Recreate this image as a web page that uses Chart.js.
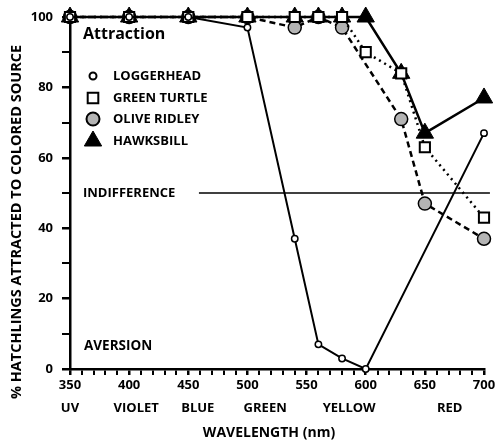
<!DOCTYPE html>
<html>
<head>
<meta charset="utf-8">
<script src="https://cdn.jsdelivr.net/npm/chart.js@4"></script>
<style>
  html, body { margin: 0; padding: 0; background: #fff; }
</style>
</head>
<body>
<canvas id="myChart" width="495" height="441"></canvas>
<script>
// wavelength (nm) and % of hatchlings attracted, per species
const loggerheadNm  = [350, 400, 450, 500, 540, 560, 580, 600, 700];
const loggerheadPct = [100, 100, 100, 97, 37, 7, 3, 0, 67];

const greenNm  = [350, 400, 450, 500, 540, 560, 580, 600, 630, 650, 700];
const greenPct = [100, 100, 100, 100, 100, 100, 100, 90, 84, 63, 43];

const oliveNm  = [350, 400, 450, 500, 540, 560, 580, 630, 650, 700];
const olivePct = [100, 100, 100, 100, 97, 100, 97, 71, 47, 37];

const hawkNm  = [350, 400, 450, 500, 540, 560, 580, 600, 630, 650, 700];
const hawkPct = [100, 100, 100, 100, 100, 100, 100, 100, 84, 67, 77];

const indifferenceNm  = [459, 705];
const indifferencePct = [50, 50];

const colorNames   = ['UV', 'VIOLET', 'BLUE', 'GREEN', 'YELLOW', 'RED'];
const colorCentres = [350, 406, 458, 515, 586, 671];

const FONT = '"Open Sans", "DejaVu Sans", sans-serif';

const pts = (xs, ys) => xs.map((v, i) => ({ x: v, y: ys[i] }));

const legendItems = [
  { label: 'LOGGERHEAD',   style: 'circle',   radius: 3.5, fill: '#fff', bw: 2 },
  { label: 'GREEN TURTLE', style: 'rect',     radius: 7.5, fill: '#fff', bw: 2 },
  { label: 'OLIVE RIDLEY', style: 'circle',   radius: 6.5, fill: '#b4b4b4', bw: 2 },
  { label: 'HAWKSBILL',    style: 'triangle', radius: 10,  fill: '#000', bw: 1 }
];

// text, legend and the second row of x labels
const annotations = {
  id: 'annotations',
  afterDraw(chart) {
    const { ctx, scales: { x } } = chart;
    ctx.save();
    ctx.fillStyle = '#000';
    ctx.strokeStyle = '#000';
    ctx.textBaseline = 'middle';
    ctx.textAlign = 'left';

    ctx.font = 'bold 16px ' + FONT;
    ctx.fillText('Attraction', 83, 34);

    ctx.font = 'bold 13px ' + FONT;
    ctx.fillText('INDIFFERENCE', 83, 193);
    ctx.font = 'bold 13.5px ' + FONT;
    ctx.fillText('AVERSION', 84, 346);

    legendItems.forEach((item, i) => {
      const cy = [76, 98, 119, 141][i];
      ctx.fillStyle = item.fill;
      ctx.lineWidth = item.bw;
      Chart.helpers.drawPoint(ctx, { pointStyle: item.style, radius: item.radius, rotation: 0, borderWidth: item.bw }, 93, cy);
      ctx.fillStyle = '#000';
      ctx.font = 'bold 13px ' + FONT;
      ctx.fillText(item.label, 113, cy);
    });

    ctx.textAlign = 'center';
    ctx.font = 'bold 13px ' + FONT;
    colorNames.forEach((name, i) => {
      ctx.fillText(name, x.getPixelForValue(colorCentres[i]), 408);
    });
    ctx.font = 'bold 14px ' + FONT;
    ctx.fillText('WAVELENGTH (nm)', 269, 433);

    ctx.translate(17, 222);
    ctx.rotate(-Math.PI / 2);
    ctx.font = 'bold 14.5px ' + FONT;
    ctx.fillText('% HATCHLINGS ATTRACTED TO COLORED SOURCE', 0, 0);
    ctx.restore();
  }
};

const ctx = document.getElementById('myChart').getContext('2d');
const chart = new Chart(ctx, {
  type: 'line',
  data: {
    datasets: [
      {
        label: 'LOGGERHEAD',
        data: pts(loggerheadNm, loggerheadPct),
        borderColor: '#000', borderWidth: 2,
        pointStyle: 'circle', pointRadius: 3.2,
        pointBackgroundColor: '#fff', pointBorderColor: '#000', pointBorderWidth: 1.5,
        clip: false
      },
      {
        label: 'GREEN TURTLE',
        data: pts(greenNm, greenPct),
        borderColor: '#000', borderWidth: 2.5, borderDash: [2, 4],
        pointStyle: 'rect', pointRadius: 7.2,
        pointBackgroundColor: '#fff', pointBorderColor: '#000', pointBorderWidth: 2,
        clip: false
      },
      {
        label: 'HAWKSBILL',
        data: pts(hawkNm, hawkPct),
        borderColor: '#000', borderWidth: 2.5,
        pointStyle: 'triangle', pointRadius: 10,
        pointBackgroundColor: '#000', pointBorderColor: '#000', pointBorderWidth: 1,
        clip: false
      },
      {
        label: 'OLIVE RIDLEY',
        data: pts(oliveNm, olivePct),
        borderColor: '#000', borderWidth: 2.5, borderDash: [6, 4],
        pointStyle: 'circle', pointRadius: 6.5,
        pointBackgroundColor: '#b4b4b4', pointBorderColor: '#000', pointBorderWidth: 1.5,
        clip: false
      },
      {
        label: 'INDIFFERENCE',
        data: pts(indifferenceNm, indifferencePct),
        borderColor: '#000', borderWidth: 1.5,
        pointRadius: 0,
        clip: false
      }
    ]
  },
  options: {
    responsive: false,
    animation: false,
    layout: { padding: { top: 17, right: 8, left: 0, bottom: 0 } },
    plugins: { legend: { display: false }, tooltip: { enabled: false } },
    elements: { line: { tension: 0 } },
    scales: {
      x: {
        type: 'linear', min: 350, max: 700,
        border: { display: true, color: '#000', width: 2.5 },
        grid: {
          drawOnChartArea: false, drawTicks: true, tickLength: 6,
          color: '#000',
          lineWidth: c => (c.tick && c.tick.value % 50 === 0 ? 2.5 : 2)
        },
        ticks: {
          stepSize: 10, autoSkip: false, maxRotation: 0,
          padding: 2, color: '#000',
          font: { family: FONT, size: 13, weight: 'bold' },
          callback: v => (v % 50 === 0 ? String(v) : '')
        },
        afterFit(scale) {
          scale.height = 72;
          scale.paddingLeft = 0;
          scale.paddingRight = 0;
        }
      },
      y: {
        min: 0, max: 100,
        border: { display: true, color: '#000', width: 2.5 },
        grid: {
          drawOnChartArea: false, drawTicks: true, tickLength: 8,
          color: '#000',
          lineWidth: c => (c.tick && c.tick.value % 20 === 0 ? 2.5 : 2)
        },
        ticks: {
          stepSize: 10, autoSkip: false,
          padding: 9, color: '#000',
          font: { family: FONT, size: 13, weight: 'bold' },
          callback: v => (v % 20 === 0 ? String(v) : '')
        },
        afterFit(scale) {
          scale.width = 70;
          scale.paddingTop = 0;
          scale.paddingBottom = 0;
        }
      }
    }
  },
  plugins: [annotations]
});
</script>
</body>
</html>
